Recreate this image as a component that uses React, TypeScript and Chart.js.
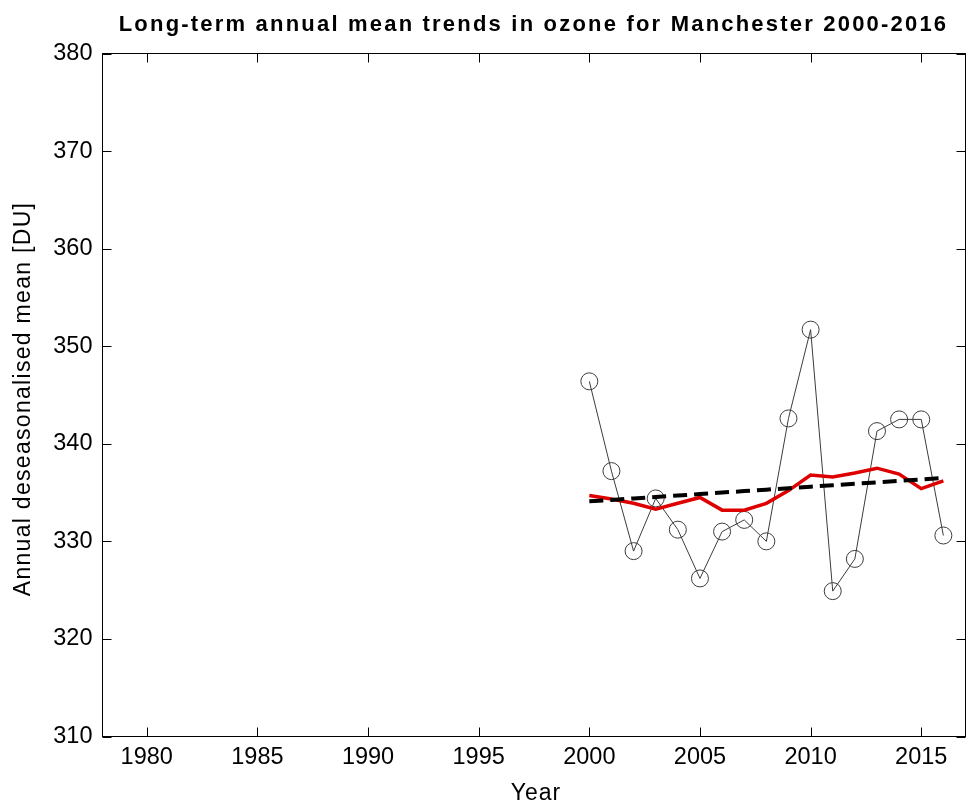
import React, { useEffect, useRef } from "react";
import { Chart, registerables } from "chart.js";

Chart.register(...registerables);

const YEARS = [2000, 2001, 2002, 2003, 2004, 2005, 2006, 2007, 2008, 2009, 2010, 2011, 2012, 2013, 2014, 2015, 2016];
const ANNUAL_MEAN = [346.4, 337.2, 329.0, 334.4, 331.2, 326.2, 331.0, 332.2, 330.0, 342.6, 351.7, 324.9, 328.2, 341.3, 342.5, 342.5, 330.6];
const SMOOTHED = [334.7, 334.35, 333.9, 333.3, 333.9, 334.5, 333.2, 333.2, 333.9, 335.2, 336.8, 336.6, 337.0, 337.5, 336.9, 335.4, 336.2];
const TREND = [334.1, 334.25, 334.4, 334.55, 334.7, 334.85, 335.0, 335.15, 335.3, 335.45, 335.6, 335.75, 335.9, 336.05, 336.2, 336.35, 336.5];
const X_TICKS = [1980, 1985, 1990, 1995, 2000, 2005, 2010, 2015];
const Y_TICKS = [310, 320, 330, 340, 350, 360, 370, 380];

const TITLE = "Long-term annual mean trends in ozone for Manchester 2000-2016";
const X_TITLE = "Year";
const Y_TITLE = "Annual deseasonalised mean [DU]";

const FONT = "'Liberation Sans', Arial, sans-serif";

const framePlugin = {
  id: "matlabFrame",
  afterDraw(chart: any) {
    const { ctx, chartArea, scales } = chart;
    const { left, right, top, bottom } = chartArea;
    const x = scales.x;
    const y = scales.y;
    ctx.save();
    ctx.strokeStyle = "#000";
    ctx.lineWidth = 1;
    ctx.strokeRect(left, top, right - left, bottom - top);
    ctx.beginPath();
    const tl = 9;
    for (const t of x.ticks) {
      const px = Math.round(x.getPixelForValue(t.value)) + 0.5;
      ctx.moveTo(px, bottom);
      ctx.lineTo(px, bottom - tl);
      ctx.moveTo(px, top);
      ctx.lineTo(px, top + tl);
    }
    for (const t of y.ticks) {
      const py = Math.round(y.getPixelForValue(t.value)) + 0.5;
      ctx.moveTo(left, py);
      ctx.lineTo(left + tl, py);
      ctx.moveTo(right, py);
      ctx.lineTo(right - tl, py);
    }
    ctx.stroke();

    ctx.fillStyle = "#000";
    // Title
    ctx.font = `bold 22px ${FONT}`;
    (ctx as any).letterSpacing = "2.2px";
    ctx.textAlign = "center";
    ctx.textBaseline = "alphabetic";
    ctx.fillText(TITLE, 533.5, 30.7);

    // X title
    ctx.font = `23px ${FONT}`;
    (ctx as any).letterSpacing = "1px";
    ctx.fillText(X_TITLE, 536, 800);

    // Y title
    (ctx as any).letterSpacing = "1.3px";
    ctx.translate(30, 399);
    ctx.rotate(-Math.PI / 2);
    ctx.fillText(Y_TITLE, 0, 0);
    ctx.restore();
  },
};

export default function App() {
  const canvasRef = useRef<HTMLCanvasElement | null>(null);

  useEffect(() => {
    if (!canvasRef.current) return;
    const toPts = (vals: number[]) => YEARS.map((yr, i) => ({ x: yr, y: vals[i] }));
    const chart = new Chart(canvasRef.current, {
      type: "line",
      data: {
        datasets: [
          {
            label: "Trend",
            data: toPts(TREND),
            borderColor: "#000",
            borderWidth: 4,
            borderDash: [14, 7],
            pointRadius: 0,
            fill: false,
            tension: 0,
            order: 1,
          },
          {
            label: "Smoothed",
            data: toPts(SMOOTHED),
            borderColor: "rgb(222,0,0)",
            borderWidth: 3.5,
            pointRadius: 0,
            fill: false,
            tension: 0,
            order: 2,
          },
          {
            label: "Annual mean",
            data: toPts(ANNUAL_MEAN),
            borderColor: "rgb(60,60,60)",
            borderWidth: 1,
            pointRadius: 8.5,
            pointStyle: "circle",
            pointBorderColor: "rgb(60,60,60)",
            pointBackgroundColor: "rgba(0,0,0,0)",
            pointBorderWidth: 1,
            fill: false,
            tension: 0,
            order: 3,
          },
        ],
      },
      options: {
        animation: false,
        responsive: false,
        devicePixelRatio: 1,
        layout: { padding: { left: 0, top: 53.5, right: 4.5, bottom: 0 } },
        plugins: {
          legend: { display: false },
          tooltip: { enabled: false },
          title: { display: false },
        },
        scales: {
          x: {
            type: "linear",
            min: 1978,
            max: 2017,
            grid: { display: false, drawTicks: false },
            border: { display: false },
            afterBuildTicks: (scale: any) => {
              scale.ticks = X_TICKS.map((v) => ({ value: v }));
            },
            afterFit: (scale: any) => {
              scale.height = 72.5;
            },
            ticks: {
              padding: 7,
              maxRotation: 0,
              autoSkip: false,
              color: "#000",
              font: { family: FONT, size: 23.5 },
              callback: (v: any) => String(v),
            },
          },
          y: {
            type: "linear",
            min: 310,
            max: 380,
            grid: { display: false, drawTicks: false },
            border: { display: false },
            afterBuildTicks: (scale: any) => {
              scale.ticks = Y_TICKS.map((v) => ({ value: v }));
            },
            afterFit: (scale: any) => {
              scale.width = 102.5;
            },
            ticks: {
              padding: 10,
              autoSkip: false,
              color: "#000",
              font: { family: FONT, size: 23.5 },
              callback: (v: any) => String(v),
            },
          },
        },
      },
      plugins: [framePlugin],
    });
    return () => chart.destroy();
  }, []);

  return (
    <div style={{ position: "fixed", left: 0, top: 0, width: 975, height: 809, background: "#fff" }}>
      <canvas ref={canvasRef} width={975} height={809} style={{ display: "block" }} />
    </div>
  );
}
